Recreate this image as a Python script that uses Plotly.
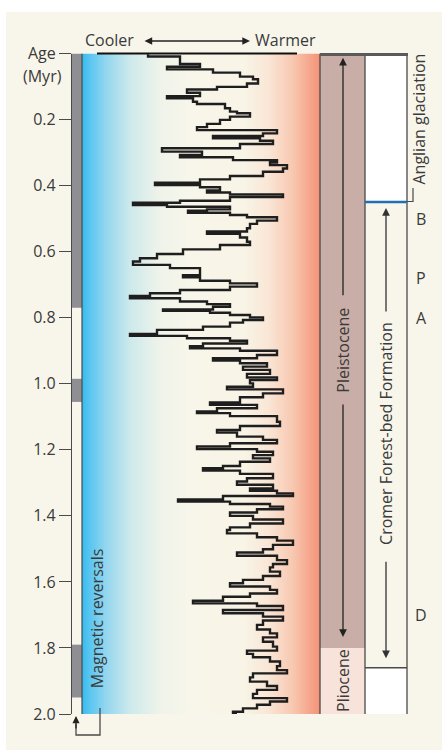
import numpy as np
import plotly.graph_objects as go

# ---------------- data ----------------
# climate curve: age (Myr) and relative warmth index (higher = warmer)
ages = [0.002, 0.009, 0.020, 0.032, 0.040, 0.048, 0.058, 0.070, 0.078, 0.091,
        0.101, 0.109, 0.119, 0.129, 0.136, 0.146, 0.153, 0.166, 0.176, 0.181,
        0.191, 0.201, 0.213, 0.223, 0.232, 0.242, 0.250, 0.257, 0.264, 0.274,
        0.287, 0.297, 0.307, 0.314, 0.323,
        0.330, 0.338, 0.348, 0.358, 0.371, 0.381, 0.391, 0.398, 0.405, 0.415,
        0.421, 0.427, 0.435, 0.446, 0.452, 0.459, 0.464, 0.472, 0.476, 0.482,
        0.489, 0.496, 0.506, 0.516, 0.529, 0.539, 0.546, 0.557, 0.570, 0.580,
        0.593, 0.607, 0.620, 0.630, 0.640, 0.650,
        0.661, 0.671, 0.678, 0.688, 0.696, 0.706, 0.716, 0.726, 0.734, 0.741,
        0.751, 0.759, 0.767, 0.775, 0.779, 0.785, 0.792, 0.799, 0.807, 0.815,
        0.827, 0.837, 0.849, 0.855, 0.862, 0.870, 0.878, 0.886, 0.893, 0.900,
        0.913, 0.923, 0.930, 0.938, 0.948, 0.958, 0.970, 0.981, 0.989,
        0.999, 1.009, 1.017, 1.029, 1.041, 1.057, 1.064, 1.074, 1.084, 1.089,
        1.098, 1.115, 1.128, 1.140, 1.148, 1.160, 1.170, 1.180, 1.190, 1.198,
        1.206, 1.216, 1.226, 1.236, 1.249, 1.256, 1.263, 1.273, 1.286, 1.296,
        1.306, 1.317, 1.324,
        1.332, 1.340, 1.350, 1.357, 1.364, 1.372, 1.380, 1.390, 1.400, 1.411,
        1.423, 1.435, 1.443, 1.453, 1.465, 1.475, 1.488, 1.501, 1.511, 1.521,
        1.534, 1.546, 1.556, 1.569, 1.582, 1.594, 1.604, 1.614, 1.624, 1.635,
        1.645, 1.657,
        1.665, 1.673, 1.685, 1.695, 1.705, 1.717, 1.730, 1.744, 1.756, 1.768,
        1.781, 1.796, 1.808, 1.818, 1.828, 1.841, 1.855, 1.867, 1.877, 1.889,
        1.902, 1.915, 1.927, 1.939, 1.952, 1.962, 1.972, 1.983, 1.993, 1.998]
warmth = [66, 98, 98, 118, 85, 131, 158, 171, 176, 165,
          135, 105, 118, 85, 111, 115, 143, 148, 155, 168,
          148, 138, 125, 115, 195, 181, 131, 178, 191, 158,
          80, 120, 98, 151, 195,
          188, 205, 201, 181, 148, 118, 73, 118, 138, 125,
          148, 201, 148, 98, 51, 85, 148, 125, 106, 148,
          165, 195, 175, 168, 165, 125, 158, 165, 168, 138,
          101, 75, 58, 51, 88, 118,
          118, 101, 118, 148, 175, 148, 98, 68, 48, 98,
          125, 148, 131, 81, 128, 148, 168, 181, 161, 148,
          121, 75, 48, 105, 148, 165, 121, 108, 158, 195,
          175, 131, 158, 185, 161, 188, 165, 195, 168,
          171, 145, 201, 181, 158, 128, 175, 135, 115, 148,
          195, 198, 158, 135, 155, 181, 195, 148, 115, 175,
          191, 171, 188, 158, 141, 121, 158, 191, 165, 155,
          191, 168, 195,
          211, 141, 96, 148, 188, 201, 175, 148, 171, 201,
          168, 148, 145, 175, 195, 211, 191, 181, 155, 195,
          205, 191, 188, 198, 181, 161, 148, 188, 195, 168,
          141, 111,
          175, 201, 141, 181, 201, 181, 175, 188, 195, 181,
          191, 195, 165, 171, 188, 198, 195, 205, 171, 168,
          185, 195, 175, 171, 205, 188, 175, 161, 151, 155]

# normal-polarity intervals (magnetic reversals column)
chron_start = [0.0, 0.985, 1.79]
chron_end = [0.77, 1.055, 1.95]

# epochs
epoch_names = ["Pleistocene", "Pliocene"]
epoch_start = [0.0, 1.80]
epoch_end = [1.80, 2.00]

# Cromer Forest-bed Formation / Anglian glaciation
anglian_base = 0.45
cromer_base = 1.86

# site letters
site_labels = ["B", "P", "A", "D"]
site_ages = [0.50, 0.68, 0.80, 1.70]

tick_vals = [0.0, 0.2, 0.4, 0.6, 0.8, 1.0, 1.2, 1.4, 1.6, 1.8, 2.0]
tick_text = ["Age", "0.2", "0.4", "0.6", "0.8", "1.0", "1.2", "1.4", "1.6", "1.8", "2.0"]

# ---------------- layout helpers ----------------
W, H = 442, 750
def px(x):
    return x / W
def py(y):
    return 1 - y / H

FONT = "Open Sans"
TXT = "#3a3a3a"
LINE = "#4a4a4a"
CREAM = "#f8f6ea"

fig = go.Figure()

# gradient background (cool -> warm)
gx = np.linspace(0, 238, 160)
fig.add_trace(go.Heatmap(
    x=gx, y=[0, 2], z=[gx / 238, gx / 238], zmin=0, zmax=1,
    colorscale=[[0.0, "#38bcf0"], [0.03, "#58c5f0"], [0.10, "#93d6ee"],
                [0.20, "#cde9ec"], [0.32, "#eef3ea"], [0.45, "#f8f6ea"],
                [0.68, "#f8f4e6"], [0.78, "#f9e6d6"], [0.88, "#f8c9b2"],
                [0.95, "#f6a88e"], [1.0, "#f38f76"]],
    zsmooth="best", showscale=False, hoverinfo="skip"))

# climate curve
fig.add_trace(go.Scatter(
    x=warmth, y=ages, mode="lines",
    line=dict(color="#1e1e1e", width=2.4, shape="vh"),
    hoverinfo="skip", showlegend=False))

shapes = []
# cream panel
shapes.append(dict(type="rect", xref="paper", yref="paper", x0=px(6), x1=1.0,
                   y0=0, y1=py(12), fillcolor=CREAM, line_width=0, layer="below"))
# magnetic reversal strip
for s, e in zip(chron_start, chron_end):
    shapes.append(dict(type="rect", xref="paper", yref="y", x0=px(71), x1=px(82),
                       y0=s, y1=e, fillcolor="#8e8e93", line_width=0, layer="below"))
shapes.append(dict(type="line", xref="paper", yref="y", x0=px(82), x1=px(82),
                   y0=0, y1=2.0, line=dict(color=LINE, width=1.2)))
# epochs column
epoch_cols = ["#c8aea7", "#f7e3da"]
for s, e, c in zip(epoch_start, epoch_end, epoch_cols):
    shapes.append(dict(type="rect", xref="paper", yref="y", x0=px(320), x1=px(365),
                       y0=s, y1=e, fillcolor=c, line_width=0, layer="below"))
# Anglian box and base box of Cromer column
shapes.append(dict(type="rect", xref="paper", yref="y", x0=px(365), x1=px(407),
                   y0=0, y1=anglian_base, fillcolor="#ffffff", line_width=0, layer="below"))
shapes.append(dict(type="rect", xref="paper", yref="y", x0=px(365), x1=px(407),
                   y0=cromer_base, y1=2.0, fillcolor="#ffffff", line_width=0, layer="below"))
for xx in (320, 365, 407):
    shapes.append(dict(type="line", xref="paper", yref="y", x0=px(xx), x1=px(xx),
                       y0=0, y1=2.0, line=dict(color=LINE, width=1.3)))
shapes.append(dict(type="line", xref="paper", yref="y", x0=px(365), x1=px(407),
                   y0=cromer_base, y1=cromer_base, line=dict(color=LINE, width=1.3)))
shapes.append(dict(type="line", xref="paper", yref="y", x0=px(365), x1=px(407),
                   y0=anglian_base, y1=anglian_base, line=dict(color="#1f6fb2", width=2.5)))
# Anglian bracket
shapes.append(dict(type="path", xref="paper", yref="paper",
                   path=f"M {px(407)},{py(201.5)} L {px(413)},{py(201.5)} L {px(413)},{py(188)}",
                   line=dict(color=LINE, width=1.2)))
# top lines
shapes.append(dict(type="line", xref="paper", yref="paper", x0=px(320), x1=px(408),
                   y0=py(54.5), y1=py(54.5), line=dict(color="#5a5a5a", width=3)))
shapes.append(dict(type="line", xref="paper", yref="paper", x0=px(97), x1=px(297),
                   y0=py(53.5), y1=py(53.5), line=dict(color="#111111", width=2.2)))
# magnetic reversals bracket
shapes.append(dict(type="path", xref="paper", yref="paper",
                   path=f"M {px(100)},{py(708)} L {px(100)},{py(735)} L {px(76)},{py(735)} L {px(76)},{py(724)}",
                   line=dict(color=LINE, width=1.3)))

ann = []
tf = dict(family=FONT, size=16, color=TXT)
ann.append(dict(text="Cooler", xref="paper", yref="paper", x=px(83), y=py(40),
                xanchor="left", yanchor="middle", showarrow=False, font=tf))
ann.append(dict(text="Warmer", xref="paper", yref="paper", x=px(318), y=py(40),
                xanchor="right", yanchor="middle", showarrow=False, font=tf))
ann.append(dict(text="", xref="paper", yref="paper", x=px(250), y=py(41),
                ax=-107, ay=0, showarrow=True, arrowside="end+start",
                arrowhead=2, arrowsize=1.1, arrowwidth=1.4, arrowcolor="#222"))
ann.append(dict(text="(Myr)", xref="paper", yref="paper", x=px(64), y=py(75.5),
                xanchor="right", yanchor="middle", showarrow=False, font=tf))
# Pleistocene
ann.append(dict(text="Pleistocene", xref="paper", yref="y", x=px(343), y=0.90,
                xanchor="center", yanchor="middle",
                textangle=-90, showarrow=False, font=tf))
ann.append(dict(text="", xref="paper", yref="y", x=px(343), y=0.013, ax=0, ay=239,
                showarrow=True, arrowhead=2, arrowsize=1.2, arrowwidth=1.3, arrowcolor="#222"))
ann.append(dict(text="", xref="paper", yref="y", x=px(343), y=1.767, ax=0, ay=-234,
                showarrow=True, arrowhead=2, arrowsize=1.2, arrowwidth=1.3, arrowcolor="#222"))
ann.append(dict(text="Pliocene", xref="paper", yref="y", x=px(343), y=1.90,
                xanchor="center", yanchor="middle",
                textangle=-90, showarrow=False, font=tf))
# Cromer
ann.append(dict(text="Cromer Forest-bed Formation", xref="paper", yref="y", x=px(386), y=1.152,
                xanchor="center", yanchor="middle",
                textangle=-90, showarrow=False, font=tf))
ann.append(dict(text="", xref="paper", yref="y", x=px(386), y=0.468, ax=0, ay=105,
                showarrow=True, arrowhead=2, arrowsize=1.2, arrowwidth=1.3, arrowcolor="#333"))
ann.append(dict(text="", xref="paper", yref="y", x=px(386), y=1.831, ax=0, ay=-98,
                showarrow=True, arrowhead=2, arrowsize=1.2, arrowwidth=1.3, arrowcolor="#333"))
ann.append(dict(text="Anglian glaciation", xref="paper", yref="y", x=px(419), y=0.20,
                xanchor="center", yanchor="middle",
                textangle=-90, showarrow=False, font=tf))
for lab, a in zip(site_labels, site_ages):
    ann.append(dict(text=lab, xref="paper", yref="y", x=px(421), y=a,
                    xanchor="center", yanchor="middle",
                    showarrow=False, font=tf))
# Magnetic reversals
ann.append(dict(text="Magnetic reversals", xref="paper", yref="y", x=px(97), y=1.71,
                xanchor="center", yanchor="middle",
                textangle=-90, showarrow=False, font=tf))
ann.append(dict(text="", xref="paper", yref="paper", x=px(76), y=py(716), ax=0, ay=14,
                showarrow=True, arrowhead=2, arrowsize=1.1, arrowwidth=1.3, arrowcolor="#222"))

fig.update_layout(
    width=W, height=H, margin=dict(l=0, r=0, t=0, b=0, autoexpand=False),
    paper_bgcolor="#ffffff", plot_bgcolor="rgba(0,0,0,0)",
    showlegend=False, shapes=shapes, annotations=ann,
    font=dict(family=FONT, color=TXT),
    xaxis=dict(domain=[px(82), px(320)], range=[0, 238], visible=False,
               fixedrange=True),
    yaxis=dict(domain=[py(714), py(53.5)], range=[2.0, 0.0], anchor="free",
               position=px(71), showline=True, linecolor=LINE, linewidth=1.2,
               ticks="outside", ticklen=12, tickwidth=1.2, tickcolor=LINE,
               tickvals=tick_vals, ticktext=tick_text, showgrid=False,
               zeroline=False, tickfont=dict(family=FONT, size=16, color=TXT),
               fixedrange=True, automargin=False),
)

fig.write_html(
    "out.html",
    config={"displayModeBar": False, "responsive": False},
    post_script="document.body.style.margin='0';document.body.style.padding='0';"
                "document.documentElement.style.overflow='hidden';",
)
